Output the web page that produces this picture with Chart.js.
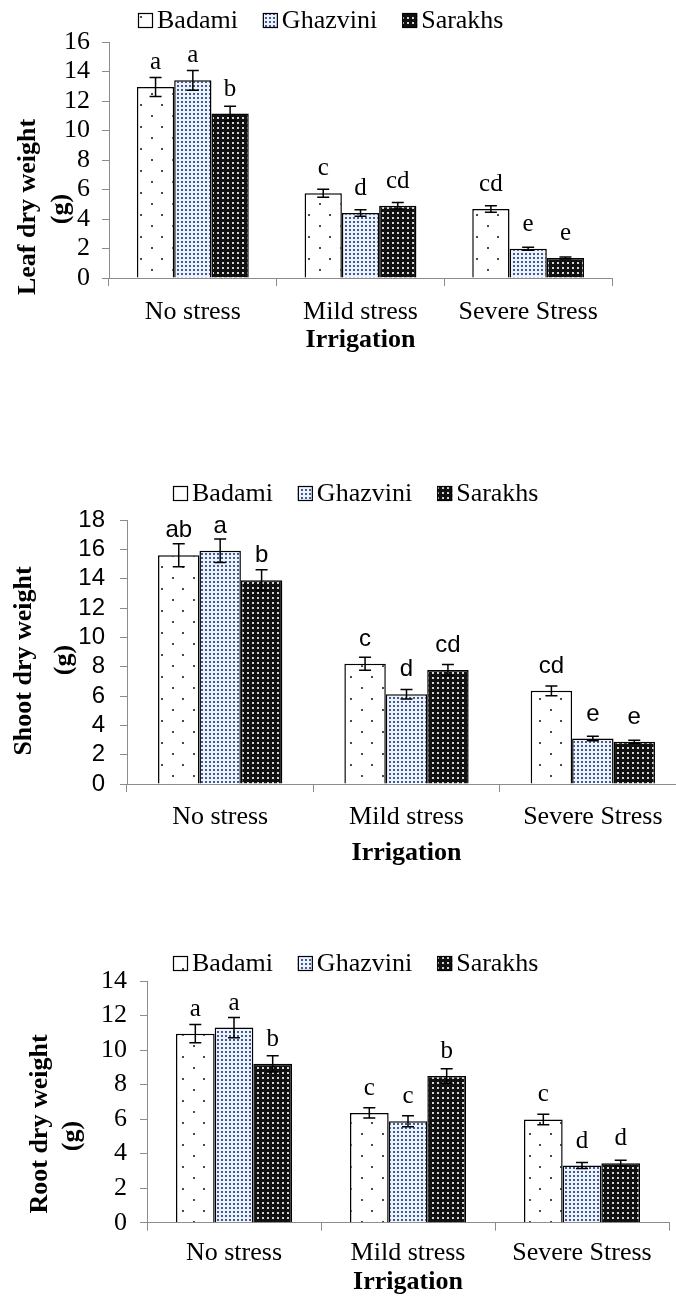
<!DOCTYPE html>
<html><head><meta charset="utf-8">
<script src="https://cdn.jsdelivr.net/npm/chart.js@4.4.0/dist/chart.umd.min.js"></script>
<style>
html,body{margin:0;padding:0;background:#fff;overflow:hidden;width:676px;height:1300px;}
.wrap{position:absolute;left:0;width:676px;overflow:hidden;}
canvas{display:block;}
</style></head><body>
<div class="wrap" style="top:0px;height:380px"><canvas id="c1" width="676" height="380"></canvas></div>
<div class="wrap" style="top:440px;height:440px"><canvas id="c2" width="710" height="440"></canvas></div>
<div class="wrap" style="top:930px;height:370px"><canvas id="c3" width="676" height="370"></canvas></div>
<script>
// ---------- data ----------
const categories = ['No stress', 'Mild stress', 'Severe Stress'];
const seriesNames = ['Badami', 'Ghazvini', 'Sarakhs'];

const leafBadami   = [12.95, 5.75, 4.68];
const leafGhazvini = [13.4, 4.4, 1.98];
const leafSarakhs  = [11.15, 4.9, 1.35];
const leafErrBadami   = [0.65, 0.27, 0.22];
const leafErrGhazvini = [0.67, 0.22, 0.10];
const leafErrSarakhs  = [0.50, 0.22, 0.07];
const leafLetBadami   = ['a', 'c', 'cd'];
const leafLetGhazvini = ['a', 'd', 'e'];
const leafLetSarakhs  = ['b', 'cd', 'e'];

const shootBadami   = [15.6, 8.2, 6.35];
const shootGhazvini = [15.9, 6.12, 3.1];
const shootSarakhs  = [13.9, 7.77, 2.88];
const shootErrBadami   = [0.78, 0.45, 0.33];
const shootErrGhazvini = [0.80, 0.32, 0.15];
const shootErrSarakhs  = [0.70, 0.38, 0.11];
const shootLetBadami   = ['ab', 'c', 'cd'];
const shootLetGhazvini = ['a', 'd', 'e'];
const shootLetSarakhs  = ['b', 'cd', 'e'];

const rootBadami   = [10.95, 6.36, 5.98];
const rootGhazvini = [11.3, 5.88, 3.31];
const rootSarakhs  = [9.2, 8.5, 3.45];
const rootErrBadami   = [0.53, 0.30, 0.30];
const rootErrGhazvini = [0.58, 0.32, 0.17];
const rootErrSarakhs  = [0.47, 0.42, 0.17];
const rootLetBadami   = ['a', 'c', 'c'];
const rootLetGhazvini = ['a', 'c', 'd'];
const rootLetSarakhs  = ['b', 'b', 'd'];

const leafTicksMax = 16, shootTicksMax = 18, rootTicksMax = 14, tickStep = 2;
const xTitle = 'Irrigation';

// ---------- styling ----------
const SERIF = "'Liberation Serif','Times New Roman',serif";
const SANS = "'Liberation Sans',Arial,sans-serif";
const AXIS_GRAY = '#8c8c8c';

function tile(kind) {
  const c = document.createElement('canvas');
  const g = c.getContext('2d');
  if (kind === 0) {
    c.width = 21; c.height = 22;
    g.fillStyle = '#ffffff'; g.fillRect(0, 0, 21, 22);
    g.fillStyle = '#4a4a4a';
    g.fillRect(4, 5, 2, 2); g.fillRect(14, 16, 2, 2);
  } else if (kind === 1) {
    c.width = 4; c.height = 4;
    g.fillStyle = '#eef2fa'; g.fillRect(0, 0, 4, 4);
    g.fillStyle = '#3d5c9e'; g.fillRect(1, 1, 2, 2);
  } else {
    c.width = 5; c.height = 5;
    g.fillStyle = '#111111'; g.fillRect(0, 0, 5, 5);
    g.fillStyle = '#d6d6d6'; g.fillRect(2, 2, 2, 2);
  }
  return c;
}
const tiles = [tile(0), tile(1), tile(2)];

const errPlugin = {
  id: 'errbars',
  afterDatasetsDraw(chart) {
    const ctx = chart.ctx, ys = chart.scales.y;
    ctx.save();
    ctx.strokeStyle = '#000'; ctx.lineWidth = 1.5;
    chart.data.datasets.forEach((ds, di) => {
      const meta = chart.getDatasetMeta(di);
      meta.data.forEach((bar, i) => {
        const v = ds.data[i], e = ds.errors[i];
        const x = bar.x;
        const y1 = ys.getPixelForValue(v + e), y2 = ys.getPixelForValue(v - e);
        ctx.beginPath();
        ctx.moveTo(x, y1); ctx.lineTo(x, y2);
        ctx.moveTo(x - 6, y1); ctx.lineTo(x + 6, y1);
        ctx.moveTo(x - 6, y2); ctx.lineTo(x + 6, y2);
        ctx.stroke();
      });
    });
    ctx.restore();
  }
};

const letterPlugin = {
  id: 'letters',
  afterDatasetsDraw(chart, args, opts) {
    const ctx = chart.ctx;
    ctx.save();
    ctx.fillStyle = '#000';
    ctx.font = opts.font;
    ctx.textAlign = 'center';
    ctx.textBaseline = 'alphabetic';
    chart.data.datasets.forEach((ds, di) => {
      const meta = chart.getDatasetMeta(di);
      meta.data.forEach((bar, i) => {
        ctx.fillText(ds.letters[i], bar.x, bar.y - 18);
      });
    });
    ctx.restore();
  }
};

const legendPlugin = {
  id: 'patLegend',
  afterDraw(chart, args, opts) {
    const ctx = chart.ctx;
    ctx.save();
    ctx.font = opts.font;
    ctx.textBaseline = 'middle';
    ctx.textAlign = 'left';
    let x = opts.left;
    const y = opts.y;
    chart.data.datasets.forEach((ds) => {
      ctx.fillStyle = ds.backgroundColor;
      ctx.fillRect(x, y - 7, 15, 15);
      ctx.strokeStyle = '#000'; ctx.lineWidth = 1.2;
      ctx.strokeRect(x + 0.5, y - 6.5, 14, 14);
      ctx.fillStyle = '#000';
      ctx.fillText(ds.label, x + 19, y + 1);
      x += 19 + ctx.measureText(ds.label).width + opts.gap;
    });
    ctx.restore();
  }
};

const yTitlePlugin = {
  id: 'yTitle',
  afterDraw(chart, args, opts) {
    const ctx = chart.ctx;
    ctx.save();
    ctx.font = opts.font;
    ctx.fillStyle = '#000';
    ctx.textAlign = 'center';
    ctx.textBaseline = 'middle';
    opts.lines.forEach(l => {
      ctx.save();
      ctx.translate(l.x, l.y);
      ctx.rotate(-Math.PI / 2);
      ctx.fillText(l.text, 0, 0);
      ctx.restore();
    });
    ctx.restore();
  }
};

function makeChart(id, cfg) {
  const canvas = document.getElementById(id);
  const ctx = canvas.getContext('2d');
  const W = canvas.width, H = canvas.height;
  const T = cfg.canvasTop;
  const pats = tiles.map(t => ctx.createPattern(t, 'repeat'));
  const titleLH = 26 * 1.2;
  const Hx = cfg.titleOff + titleLH / 2;
  const tickLH = cfg.catSize * 1.2;
  const datasets = cfg.values.map((vals, k) => ({
    label: seriesNames[k],
    data: vals,
    errors: cfg.errors[k],
    letters: cfg.letters[k],
    backgroundColor: pats[k],
    borderColor: '#000',
    borderWidth: 1.5,
    borderSkipped: 'start',
    barPercentage: 1.0,
    categoryPercentage: 0.667
  }));
  return new Chart(ctx, {
    type: 'bar',
    data: { labels: categories, datasets },
    plugins: [errPlugin, letterPlugin, legendPlugin, yTitlePlugin],
    options: {
      responsive: false,
      animation: false,
      devicePixelRatio: 1,
      layout: {
        autoPadding: false,
        padding: { left: 0, right: W - cfg.right, top: cfg.top - T, bottom: H - (cfg.bottom - T) - Hx }
      },
      plugins: {
        legend: { display: false },
        tooltip: { enabled: false },
        letters: { font: cfg.letterFont },
        patLegend: { font: '26px ' + SERIF, left: cfg.legendLeft, y: cfg.legendY - T, gap: 25 },
        yTitle: {
          font: 'bold 26px ' + SERIF,
          lines: cfg.yTitle.map(l => ({ text: l.text, x: l.x, y: l.y - T }))
        }
      },
      scales: {
        x: {
          type: 'category',
          offset: true,
          grid: { offset: true, drawOnChartArea: false, drawTicks: true, tickLength: 8, color: AXIS_GRAY, lineWidth: 1 },
          border: { color: AXIS_GRAY, width: 1 },
          ticks: { color: '#000', font: { family: SERIF, size: cfg.catSize }, padding: cfg.labelOff - 8 - tickLH / 2, maxRotation: 0, autoSkip: false },
          title: { display: true, text: xTitle, color: '#000', font: { family: SERIF, size: 26, weight: 'bold' }, padding: 0 },
          afterFit(s) { s.height = Hx; }
        },
        y: {
          min: 0, max: cfg.yMax,
          ticks: { stepSize: tickStep, autoSkip: false, color: '#000', font: cfg.tickFont, padding: cfg.yPad },
          grid: { drawOnChartArea: false, drawTicks: true, tickLength: 7, color: AXIS_GRAY, lineWidth: 1 },
          border: { color: AXIS_GRAY, width: 1 },
          afterFit(s) { s.width = cfg.left; }
        }
      }
    }
  });
}

makeChart('c1', {
  canvasTop: 0, left: 109, right: 612, top: 42, bottom: 278,
  yMax: leafTicksMax, labelOff: 34, titleOff: 62, catSize: 26, yPad: 12,
  tickFont: { family: SERIF, size: 26, lineHeight: 1 }, letterFont: '25px ' + SERIF,
  legendLeft: 138, legendY: 20,
  values: [leafBadami, leafGhazvini, leafSarakhs],
  errors: [leafErrBadami, leafErrGhazvini, leafErrSarakhs],
  letters: [leafLetBadami, leafLetGhazvini, leafLetSarakhs],
  yTitle: [{ text: 'Leaf dry weight', x: 28, y: 207 }, { text: '(g)', x: 61, y: 209 }]
});

makeChart('c2', {
  canvasTop: 440, left: 127, right: 686, top: 520, bottom: 784,
  yMax: shootTicksMax, labelOff: 33, titleOff: 69, catSize: 26, yPad: 15,
  tickFont: { family: SANS, size: 24, lineHeight: 1 }, letterFont: '24px ' + SANS,
  legendLeft: 173, legendY: 493,
  values: [shootBadami, shootGhazvini, shootSarakhs],
  errors: [shootErrBadami, shootErrGhazvini, shootErrSarakhs],
  letters: [shootLetBadami, shootLetGhazvini, shootLetSarakhs],
  yTitle: [{ text: 'Shoot dry weight', x: 24, y: 661 }, { text: '(g)', x: 64, y: 660 }]
});

makeChart('c3', {
  canvasTop: 930, left: 147, right: 669, top: 981, bottom: 1222.7,
  yMax: rootTicksMax, labelOff: 30.5, titleOff: 59.5, catSize: 26, yPad: 13,
  tickFont: { family: SERIF, size: 26, lineHeight: 1 }, letterFont: '25px ' + SERIF,
  legendLeft: 173, legendY: 963,
  values: [rootBadami, rootGhazvini, rootSarakhs],
  errors: [rootErrBadami, rootErrGhazvini, rootErrSarakhs],
  letters: [rootLetBadami, rootLetGhazvini, rootLetSarakhs],
  yTitle: [{ text: 'Root dry weight', x: 40, y: 1124 }, { text: '(g)', x: 72, y: 1136 }]
});
</script>
</body></html>
